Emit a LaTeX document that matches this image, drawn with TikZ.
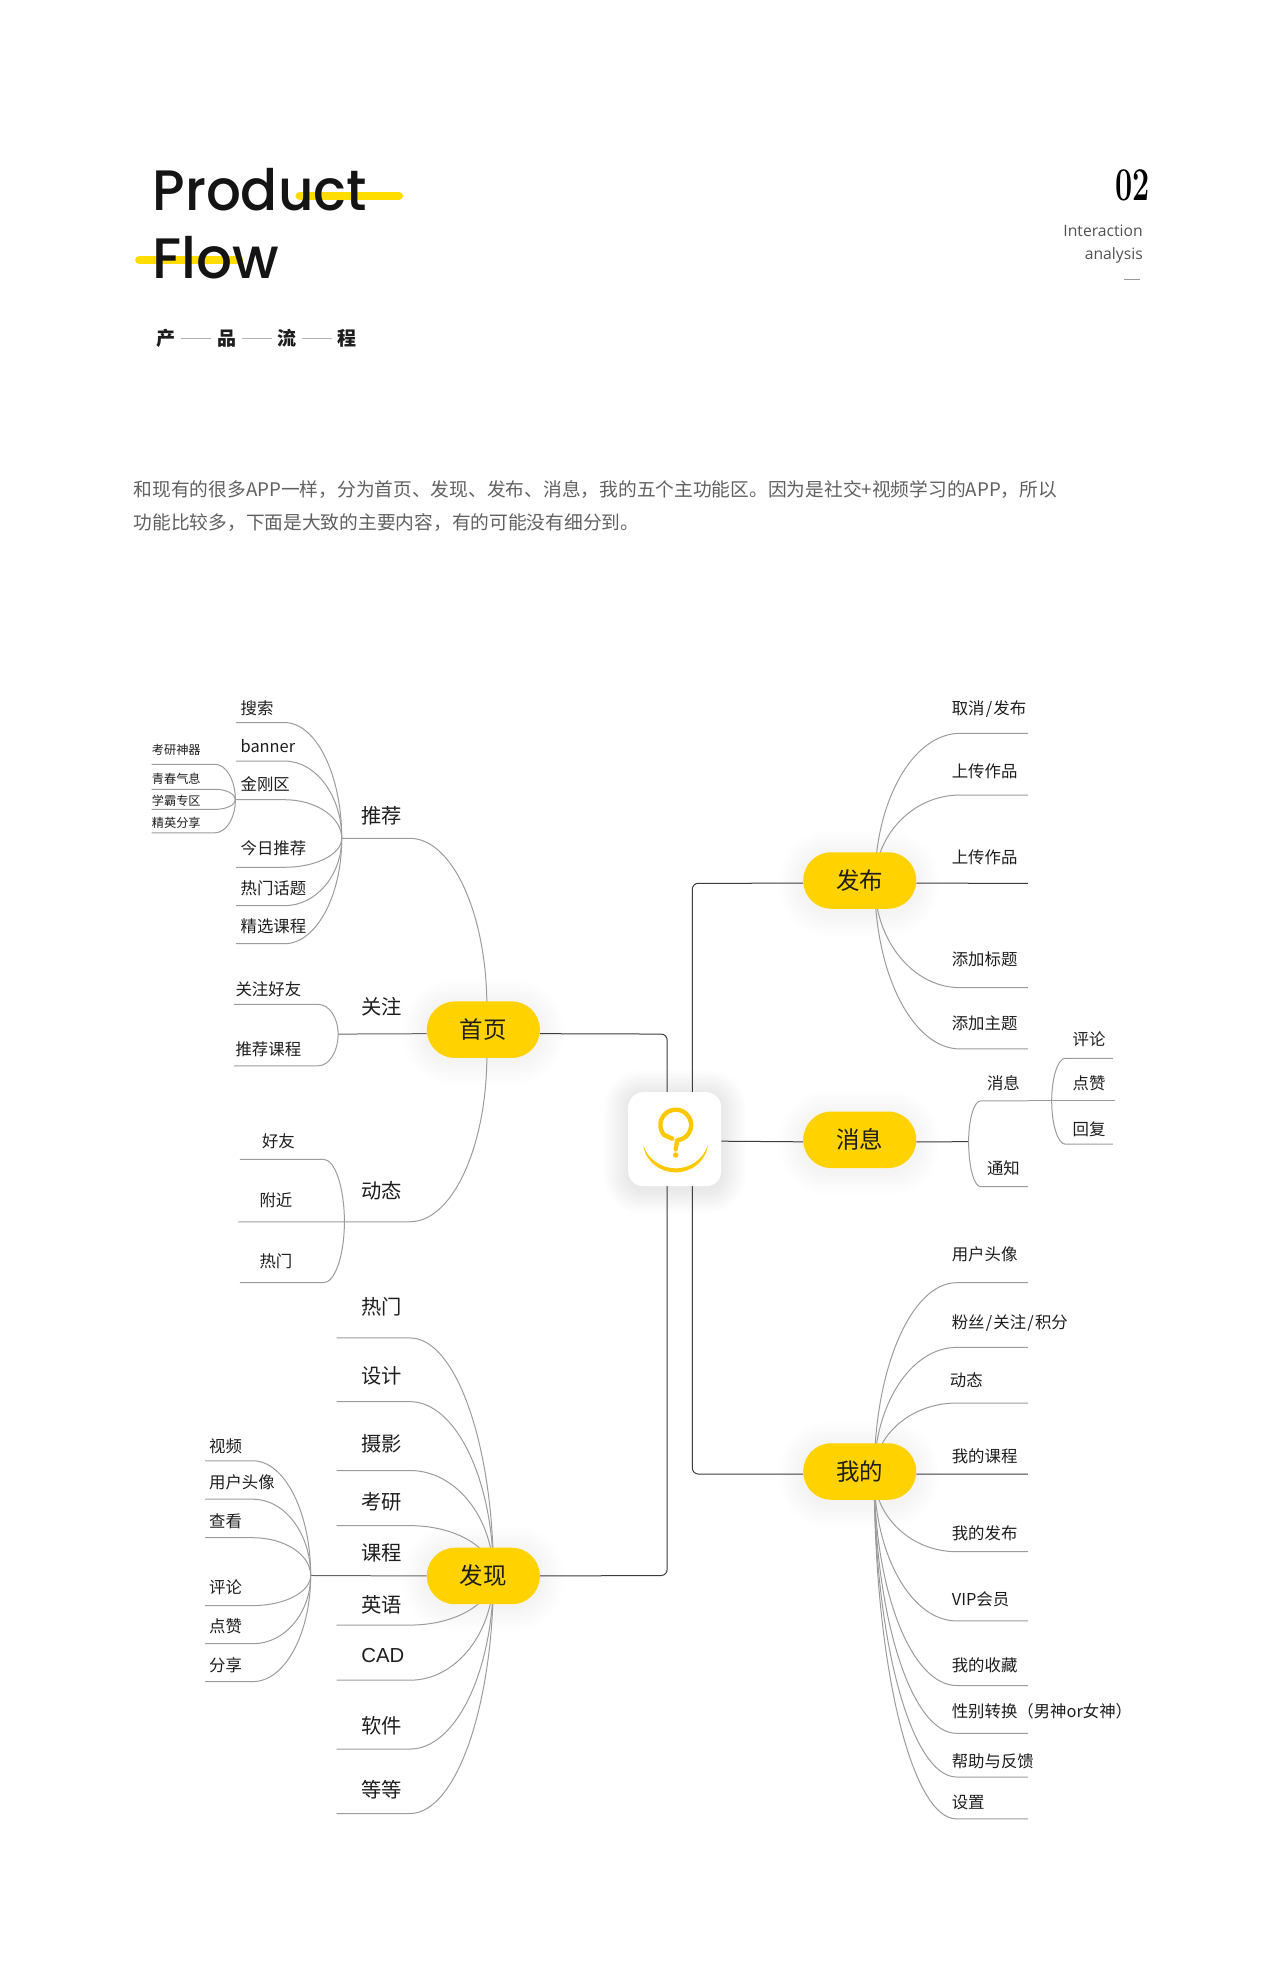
\documentclass[tikz,border=0pt]{standalone}
\usepackage{fontspec}
\usetikzlibrary{calc}
\newfontfamily\cjkf{Noto Sans CJK SC}
\newfontfamily\popf{Poppins}[UprightFont={* Medium}]
\newfontfamily\opnf{Open Sans}
\newfontfamily\libf{Liberation Sans}
\definecolor{pillY}{HTML}{FFD200}
\definecolor{barY}{HTML}{FFDD00}
\definecolor{iconY}{HTML}{FFC800}
\definecolor{branchG}{HTML}{9C9C9C}
\definecolor{trunkG}{HTML}{3C3C3C}
\definecolor{inkT}{HTML}{1E1E1E}
\definecolor{shadeC}{HTML}{5A5030}
\pgfdeclarelayer{bg}
\pgfsetlayers{bg,main}
\tikzset{
  branch/.style={draw=branchG,line width=1pt},
  trunk/.style={draw=trunkG,line width=1pt,rounded corners=6pt},
  pill/.style={fill=pillY,rounded corners=28pt,minimum width=113pt,minimum height=56.5pt,inner sep=0pt,text=inkT,font=\cjkf\fontsize{23.5}{23.5}\selectfont},
  lblM/.style={anchor=west,inner sep=0pt,text=inkT,yshift=-1pt,font=\cjkf\fontsize{16.4}{16.4}\selectfont},
  lblL/.style={anchor=west,inner sep=0pt,text=inkT,yshift=-1pt,font=\cjkf\fontsize{20.3}{20.3}\selectfont},
  lblS/.style={anchor=west,inner sep=0pt,text=inkT,yshift=-.5pt,font=\cjkf\fontsize{12.2}{12.2}\selectfont},
  para/.style={anchor=west,inner sep=0pt,text=black!62,yshift=-1pt,font=\cjkf\fontsize{18.73}{18.73}\selectfont},
  titleT/.style={anchor=base west,inner sep=0pt,text=black!92,font=\popf\fontsize{57}{57}\selectfont},
  subT/.style={inner sep=0pt,text=inkT,font=\cjkf\bfseries\fontsize{19}{19}\selectfont},
  subL/.style={draw=black!30,line width=.9pt,shorten >=5.5pt,shorten <=5.5pt},
  sideT/.style={anchor=east,inner sep=0pt,text=black!68,font=\opnf\fontsize{15.7}{15.7}\selectfont},
  barS/.style={draw=barY,line width=8pt,line cap=round},
  iconS/.style={draw=iconY,line width=4.4pt,line cap=round,line join=round}
}
\newcommand{\leafcurve}[7]{%
  \pgfmathsetmacro\myca{#5+.55*(#3-#5)}%
  \pgfmathsetmacro\mycb{#4+.55*(#7-#4)}%
  \coordinate (#1) at (#6,#7);
  \draw[branch] (#2) .. controls (#3,\mycb) and (\myca,#7) .. (#5,#7) -- (#1);
}
\newcommand{\softshadow}[6]{%
  \foreach \sk in {1,...,11}{
    \fill[shadeC,opacity=#6,rounded corners=#5+\sk*2.2pt]
      ($(#1,#2)+(-\sk*2.2pt,\sk*2.2pt-3pt)$) rectangle ($(#3,#4)+(\sk*2.2pt,-\sk*2.2pt-3pt)$);
  }
}
\begin{document}
\begin{tikzpicture}[x=1.2587pt,y=-1.2587pt]
\useasboundingbox (0,0) rectangle (1016.9,1569);

% title
\node[titleT,xscale=.96] (tProduct) at (121,167) {Product};
\node[titleT,xscale=.99] (tFlow) at (121,221) {Flow};
\node[subT] (s1) at (132,269) {产};
\node[subT] (s2) at (180,269) {品};
\node[subT] (s3) at (228,269) {流};
\node[subT] (s4) at (276,269) {程};
\node[inner sep=0pt,text=black,font=\bfseries\fontsize{47}{47}\selectfont,xscale=.65] (num) at (900,147) {02};
\node[sideT] (sa) at (908,183) {Interaction};
\node[sideT] (sb) at (908,202.6) {analysis};
\coordinate (sl1) at (893,222);
\coordinate (sl2) at (906,222);
\node[para] (p1) at (106,388) {和现有的很多APP一样，分为首页、发现、发布、消息，我的五个主功能区。因为是社交+视频学习的APP，所以};
\node[para] (p2) at (106,414) {功能比较多，下面是大致的主要内容，有的可能没有细分到。};

% pills
\node[pill] (home) at (384,818) {首页};
\node[pill] (find) at (384,1252) {发现};
\node[pill] (post) at (683,699.5) {发布};
\node[pill] (msg) at (683,905.5) {消息};
\node[pill] (mine) at (683,1169) {我的};
\node[fill=white,rounded corners=15pt,minimum width=93pt,minimum height=94pt,inner sep=0pt] (app) at (536,905) {};

% app icon
\draw[iconS] (534.1,904.6) -- (527.5,901.6) arc[start angle=140,end angle=445,radius=12.2] -- (536.8,913.1);
\fill[iconY] (536.8,917.6) circle[radius=2.2];
\fill[iconY] (511.1,909.7) .. controls (512.5,923) and (525,931.4) .. (536.8,931.4) .. controls (548.6,931.4) and (561,923) .. (562.2,909.7) .. controls (559,921) and (548,928.2) .. (536.8,928.2) .. controls (525.6,928.2) and (514.3,921) .. cycle;

% labels: home
\node[lblL] (a1) at (287,647) {推荐};
\node[lblL] (a2) at (287,799) {关注};
\node[lblL] (a3) at (287,945) {动态};
\node[lblM] (b1) at (191,562) {搜索};
\node[lblM] (b2) at (191,592) {banner};
\node[lblM] (b3) at (191,622) {金刚区};
\node[lblM] (b4) at (191,673) {今日推荐};
\node[lblM] (b5) at (191,705) {热门话题};
\node[lblM] (b6) at (191,735) {精选课程};
\node[lblS] (c1) at (120.5,595) {考研神器};
\node[lblS] (c2) at (120.5,618) {青春气息};
\node[lblS] (c3) at (120.5,636) {学霸专区};
\node[lblS] (c4) at (120.5,653) {精英分享};
\node[lblM] (d1) at (187,785) {关注好友};
\node[lblM] (d2) at (187,833) {推荐课程};
\node[lblM] (e1) at (208,906) {好友};
\node[lblM] (e2) at (206,953) {附近};
\node[lblM] (e3) at (206,1001) {热门};
% labels: find
\node[lblL] (f1) at (287,1037) {热门};
\node[lblL] (f2) at (287,1092) {设计};
\node[lblL] (f3) at (287,1146) {摄影};
\node[lblL] (f4) at (287,1192) {考研};
\node[lblL] (f5) at (287,1233) {课程};
\node[lblL] (f6) at (287,1274) {英语};
\node[lblL] (f7) at (287,1314) {\libf CAD};
\node[lblL] (f8) at (287,1370) {软件};
\node[lblL] (f9) at (287,1421) {等等};
\node[lblM] (g1) at (166,1148) {视频};
\node[lblM] (g2) at (166,1177) {用户头像};
\node[lblM] (g3) at (166,1208) {查看};
\node[lblM] (g4) at (166,1260) {评论};
\node[lblM] (g5) at (166,1291) {点赞};
\node[lblM] (g6) at (166,1322) {分享};
% labels: post
\node[lblM] (h1) at (756,562.6) {取消\kern1.2pt/\kern1.2pt发布};
\node[lblM] (h2) at (756,612) {上传作品};
\node[lblM] (h3) at (756,680) {上传作品};
\node[lblM] (h4) at (756,761) {添加标题};
\node[lblM] (h5) at (756,812) {添加主题};
% labels: msg
\node[lblM] (i1) at (784,860) {消息};
\node[lblM] (i2) at (784,927) {通知};
\node[lblM] (i3) at (852,825) {评论};
\node[lblM] (i4) at (852,860) {点赞};
\node[lblM] (i5) at (852,896) {回复};
% labels: mine
\node[lblM] (j1) at (756,996) {用户头像};
\node[lblM] (j2) at (756,1050) {粉丝\kern1.2pt/\kern1.2pt关注\kern1.2pt/\kern1.2pt积分};
\node[lblM] (j3) at (754.5,1096) {动态};
\node[lblM] (j4) at (756,1156) {我的课程};
\node[lblM] (j5) at (756,1217) {我的发布};
\node[lblM] (j6) at (756,1270) {VIP会员};
\node[lblM] (j7) at (756,1322) {我的收藏};
\node[lblM] (j8) at (756,1358.6) {性别转换（男神or女神）};
\node[lblM] (j9) at (756,1398.6) {帮助与反馈};
\node[lblM] (j10) at (756,1431) {设置};

\begin{pgfonlayer}{bg}
\fill[white] (0,0) rectangle (1016.9,1569);
% yellow bars
\coordinate (ba) at (238,155.5); \coordinate (bb) at (317,155.5);
\coordinate (bc) at (110.5,206.5); \coordinate (bd) at (190,206.5);
\draw[barS] (ba) -- (bb);
\draw[barS] (bc) -- (bd);
\draw[subL] (s1) -- (s2);
\draw[subL] (s2) -- (s3);
\draw[subL] (s3) -- (s4);
\draw[draw=black!40,line width=.8pt] (sl1) -- (sl2);

% shadows
\softshadow{339}{795}{429}{840}{26pt}{.004}
\softshadow{339}{1229}{429}{1274}{26pt}{.004}
\softshadow{638}{677}{727}{722}{26pt}{.004}
\softshadow{638}{883}{727}{928}{26pt}{.004}
\softshadow{638}{1146}{727}{1192}{26pt}{.004}
\softshadow{499}{867}{573}{942}{14pt}{.006}

% trunks
\coordinate (busA) at (530,821.5);
\coordinate (busB) at (530,1251.6);
\coordinate (busC) at (550,701.7);
\coordinate (busD) at (550,1171);
\draw[trunk] ([yshift=-4pt]home.east) -- (busA) -- (busB) -- (find.east);
\draw[trunk] ([yshift=-2.7pt]post.west) -- (busC) -- (busD) -- ([yshift=-2.5pt]mine.west);
\draw[trunk] ([yshift=-2pt]app.east) -- ([yshift=-2pt]msg.west);
\coordinate (mr) at (769.5,907);
\draw[trunk] ([yshift=-2pt]msg.east) -- (mr);
\coordinate (po) at (816.5,701.7);
\draw[trunk] ([yshift=-2.7pt]post.east) -- (po);
\coordinate (me) at (816.5,1171);
\draw[trunk] ([yshift=-2.5pt]mine.east) -- (me);

% home left
\coordinate (rA) at (271.5,666);
\coordinate (rB) at (268.6,821.5);
\coordinate (rC) at (273.6,970.6);
\coordinate (rS) at (187,635.3);
\coordinate (hT) at (386.8,800);
\coordinate (hB) at (386.8,838);
\draw[draw=black!60,line width=1pt] (rB) -- ([yshift=-4pt]home.west);
\leafcurve{lA}{hT}{386.8}{800}{325.7}{271.5}{666}
\leafcurve{lC}{hB}{386.8}{838}{325.7}{189.3}{970.6}
\leafcurve{l1}{rA}{271.5}{666}{226}{187.5}{574}
\leafcurve{l2}{rA}{271.5}{666}{226}{187.5}{604.6}
\leafcurve{l3}{rA}{271.5}{666}{226}{187}{635.3}
\leafcurve{l4}{rA}{271.5}{666}{226}{187.5}{689}
\leafcurve{l5}{rA}{271.5}{666}{226}{187.5}{719.5}
\leafcurve{l6}{rA}{271.5}{666}{226}{187.5}{749.7}
\leafcurve{s1a}{rS}{187}{635.3}{170.8}{120.5}{607.2}
\leafcurve{s2a}{rS}{187}{635.3}{170.8}{120.5}{627}
\leafcurve{s3a}{rS}{187}{635.3}{170.8}{120.5}{643}
\leafcurve{s4a}{rS}{187}{635.3}{170.8}{120.5}{661.6}
\leafcurve{d1a}{rB}{268.6}{821.5}{252.8}{186}{797.9}
\leafcurve{d2a}{rB}{268.6}{821.5}{252.8}{186}{846.7}
\leafcurve{e1a}{rC}{273.6}{970.6}{257}{190.6}{921}
\leafcurve{e3a}{rC}{273.6}{970.6}{257}{190.6}{1019}

% find
\coordinate (rF) at (392,1251.6);
\coordinate (rG) at (246.8,1251.6);
\draw[draw=black!60,line width=1pt] (rG) -- (find.west);
\leafcurve{f1a}{rF}{392}{1251.6}{325.7}{267.5}{1062.9}
\leafcurve{f2a}{rF}{392}{1251.6}{325.7}{267.5}{1113.5}
\leafcurve{f3a}{rF}{392}{1251.6}{325.7}{267.5}{1168.2}
\leafcurve{f4a}{rF}{392}{1251.6}{325.7}{267.5}{1212}
\leafcurve{f6a}{rF}{392}{1251.6}{325.7}{267.5}{1291}
\leafcurve{f7a}{rF}{392}{1251.6}{325.7}{267.5}{1334.8}
\leafcurve{f8a}{rF}{392}{1251.6}{325.7}{267.5}{1389.5}
\leafcurve{f9a}{rF}{392}{1251.6}{325.7}{267.5}{1440.7}
\leafcurve{g1a}{rG}{246.8}{1251.6}{201}{162.9}{1160.5}
\leafcurve{g2a}{rG}{246.8}{1251.6}{201}{162.9}{1191}
\leafcurve{g3a}{rG}{246.8}{1251.6}{201}{162.9}{1221.6}
\leafcurve{g4a}{rG}{246.8}{1251.6}{201}{162.9}{1275.5}
\leafcurve{g5a}{rG}{246.8}{1251.6}{201}{162.9}{1305.8}
\leafcurve{g6a}{rG}{246.8}{1251.6}{201}{162.9}{1335.9}

% post
\coordinate (rP) at (695,701.7);
\leafcurve{h1a}{rP}{695}{701.7}{762.6}{816.5}{582.6}
\leafcurve{h2a}{rP}{695}{701.7}{762.6}{816.5}{631.6}
\leafcurve{h4a}{rP}{695}{701.7}{762.6}{816.5}{784.6}
\leafcurve{h5a}{rP}{695}{701.7}{762.6}{816.5}{833.3}

% msg
\leafcurve{i1a}{mr}{769.5}{907}{779}{816.5}{874.6}
\leafcurve{i2a}{mr}{769.5}{907}{779}{816.5}{942.7}
\coordinate (mt) at (886,874.6);
\draw[branch] (i1a) -- (mt);
\coordinate (rM) at (835.5,874.6);
\leafcurve{i3a}{rM}{835.5}{874.6}{846.4}{884}{840.7}
\leafcurve{i5a}{rM}{835.5}{874.6}{846.4}{884}{909}

% mine
\coordinate (rN) at (694.5,1171);
\leafcurve{j1a}{rN}{694.5}{1171}{760}{816.5}{1019}
\leafcurve{j2a}{rN}{694.5}{1171}{760}{816.5}{1070.4}
\leafcurve{j3a}{rN}{694.5}{1171}{760}{816.5}{1114.6}
\leafcurve{j5a}{rN}{694.5}{1171}{760}{816.5}{1232.7}
\leafcurve{j6a}{rN}{694.5}{1171}{760}{816.5}{1287.7}
\leafcurve{j7a}{rN}{694.5}{1171}{760}{816.5}{1339}
\leafcurve{j8a}{rN}{694.5}{1171}{760}{816.5}{1377}
\leafcurve{j9a}{rN}{694.5}{1171}{760}{816.5}{1411.7}
\leafcurve{j10a}{rN}{694.5}{1171}{760}{816.5}{1445}
\end{pgfonlayer}
\end{tikzpicture}
\end{document}
